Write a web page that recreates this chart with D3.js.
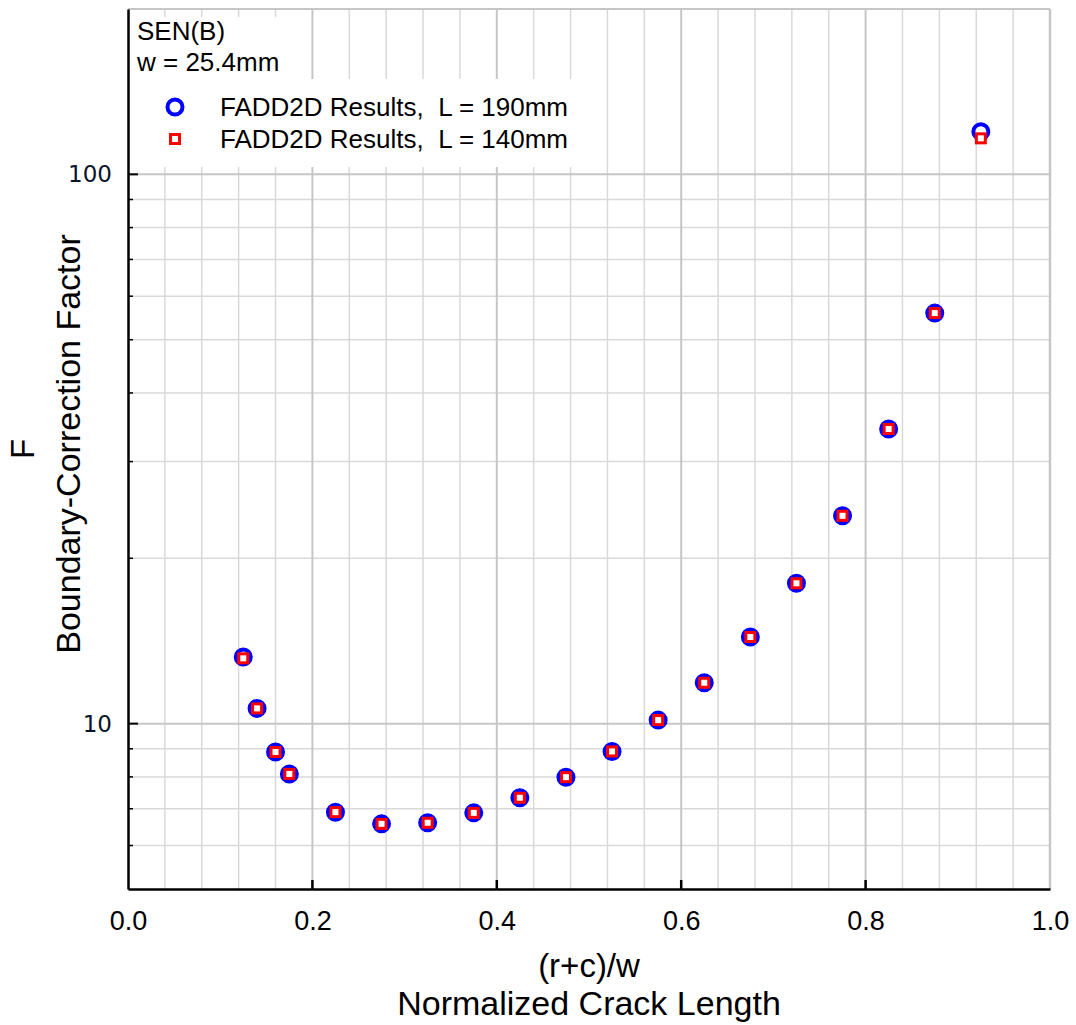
<!DOCTYPE html>
<html>
<head>
<meta charset="utf-8">
<script src="https://cdn.jsdelivr.net/npm/d3@7"></script>
<style>
  html, body { margin: 0; padding: 0; background: #fff; }
  svg { display: block; }
</style>
</head>
<body>
<svg id="chart" width="1076" height="1025"></svg>
<script>
// ---- data ----
const crackLength = [0.125, 0.14, 0.16, 0.175, 0.225, 0.275, 0.325, 0.375, 0.425, 0.475,
                     0.525, 0.575, 0.625, 0.675, 0.725, 0.775, 0.825, 0.875, 0.925];
const fL190 = [13.22, 10.66, 8.88, 8.10, 6.90, 6.57, 6.60, 6.88, 7.33, 7.99,
               8.90, 10.15, 11.87, 14.38, 18.01, 23.90, 34.39, 55.9, 119.6];
const fL140 = [13.15, 10.66, 8.88, 8.10, 6.90, 6.57, 6.60, 6.88, 7.33, 7.99,
               8.90, 10.15, 11.87, 14.38, 18.01, 23.90, 34.39, 55.9, 116.3];
const xTicks = [0.0, 0.2, 0.4, 0.6, 0.8, 1.0];
const yTicks = [10, 100];
const seriesNames = ["FADD2D Results,  L = 190mm", "FADD2D Results,  L = 140mm"];
const noteLines = ["SEN(B)", "w = 25.4mm"];

// ---- layout ----
const svg = d3.select("#chart");
const L = 128, R = 1050, T = 9, B = 889;
const x = d3.scaleLinear().domain([0, 1]).range([L, R]);
const y = d3.scaleLog().domain([5, 200]).range([B, T]);

// grid
const xMinor = d3.range(0, 25).map(i => +(i * 0.04).toFixed(2)).filter(v => v > 0 && v < 1 && Math.abs(v * 5 - Math.round(v * 5)) > 1e-6);
const xMajor = [0.2, 0.4, 0.6, 0.8];
const yMinor = [6, 7, 8, 9, 20, 30, 40, 50, 60, 70, 80, 90];
const grid = svg.append("g");
grid.selectAll(".xmin").data(xMinor).join("line")
  .attr("x1", d => x(d)).attr("x2", d => x(d)).attr("y1", T).attr("y2", B)
  .attr("stroke", "#d9d9d9").attr("stroke-width", 1.5);
grid.selectAll(".ymin").data(yMinor).join("line")
  .attr("x1", L).attr("x2", R).attr("y1", d => y(d)).attr("y2", d => y(d))
  .attr("stroke", "#d9d9d9").attr("stroke-width", 1.5);
grid.selectAll(".xmaj").data(xMajor).join("line")
  .attr("x1", d => x(d)).attr("x2", d => x(d)).attr("y1", T).attr("y2", B)
  .attr("stroke", "#c6c6c6").attr("stroke-width", 2);
grid.selectAll(".ymaj").data(yTicks).join("line")
  .attr("x1", L).attr("x2", R).attr("y1", d => y(d)).attr("y2", d => y(d))
  .attr("stroke", "#c6c6c6").attr("stroke-width", 2);
// top and right frame (grey)
grid.append("line").attr("x1", L).attr("x2", R).attr("y1", T).attr("y2", T)
  .attr("stroke", "#c6c6c6").attr("stroke-width", 2);
grid.append("line").attr("x1", R).attr("x2", R).attr("y1", T).attr("y2", B)
  .attr("stroke", "#c6c6c6").attr("stroke-width", 2.5);

// white boxes behind note and legend
svg.append("rect").attr("x", L + 1).attr("y", 17).attr("width", 150).attr("height", 63).attr("fill", "#fff");
svg.append("rect").attr("x", L + 1).attr("y", 79).attr("width", 452).attr("height", 88).attr("fill", "#fff");

// axes
const xAxis = d3.axisBottom(x).tickValues(xTicks).tickFormat(d3.format(".1f")).tickSize(0).tickPadding(22);
const gx = svg.append("g").attr("transform", `translate(0,${B})`).call(xAxis);
gx.select(".domain").attr("stroke", "#000").attr("stroke-width", 2.5);
gx.selectAll("text").attr("font-family", "Liberation Sans, Arial, sans-serif").attr("font-size", 27).attr("fill", "#000");
// inward major ticks
svg.append("g").selectAll("line").data(xMajor).join("line")
  .attr("x1", d => x(d)).attr("x2", d => x(d)).attr("y1", B).attr("y2", B - 9)
  .attr("stroke", "#000").attr("stroke-width", 2.5);

const yAxis = d3.axisLeft(y).tickValues(yTicks).tickFormat(d3.format("d")).tickSize(0).tickPadding(16);
const gy = svg.append("g").attr("transform", `translate(${L},0)`).call(yAxis);
gy.select(".domain").attr("stroke", "#000").attr("stroke-width", 2.5);
gy.selectAll("text").attr("font-family", "DejaVu Sans, sans-serif").attr("font-size", 23).attr("fill", "#0a1428");
svg.append("g").selectAll("line").data(yTicks).join("line")
  .attr("x1", L).attr("x2", L + 10).attr("y1", d => y(d)).attr("y2", d => y(d))
  .attr("stroke", "#000").attr("stroke-width", 2);
svg.append("g").selectAll("line").data(yMinor).join("line")
  .attr("x1", L).attr("x2", L + 5).attr("y1", d => y(d)).attr("y2", d => y(d))
  .attr("stroke", "#000").attr("stroke-width", 1.5);

// axis titles
const titleFont = "Liberation Sans, Arial, sans-serif";
svg.append("text").attr("x", (L + R) / 2).attr("y", 977).attr("text-anchor", "middle")
  .attr("font-family", titleFont).attr("font-size", 33).text("(r+c)/w");
svg.append("text").attr("x", (L + R) / 2).attr("y", 1015).attr("text-anchor", "middle")
  .attr("font-family", titleFont).attr("font-size", 34).text("Normalized Crack Length");
svg.append("text").attr("transform", `translate(34,${(T + B) / 2}) rotate(-90)`).attr("text-anchor", "middle")
  .attr("font-family", titleFont).attr("font-size", 33).text("F");
svg.append("text").attr("transform", `translate(80,${(T + B) / 2 - 5}) rotate(-90)`).attr("text-anchor", "middle")
  .attr("font-family", titleFont).attr("font-size", 34).text("Boundary-Correction Factor");

// data markers
const pts190 = crackLength.map((c, i) => ({ c, v: fL190[i] }));
const pts140 = crackLength.map((c, i) => ({ c, v: fL140[i] }));
svg.append("g").selectAll("circle").data(pts190).join("circle")
  .attr("cx", d => x(d.c)).attr("cy", d => y(d.v)).attr("r", 7.5)
  .attr("fill", "#fff").attr("stroke", "#0000ff").attr("stroke-width", 4);
svg.append("g").selectAll("rect").data(pts140).join("rect")
  .attr("x", d => x(d.c) - 4.5).attr("y", d => y(d.v) - 4.5).attr("width", 9).attr("height", 9)
  .attr("fill", "#fff").attr("stroke", "#ff0000").attr("stroke-width", 3);

// note
const legFont = "Liberation Sans, Arial, sans-serif";
svg.append("g").selectAll("text").data(noteLines).join("text")
  .attr("x", 137).attr("y", (d, i) => 40 + i * 31)
  .attr("font-family", legFont).attr("font-size", 26).text(d => d);

// legend
const leg = svg.append("g");
leg.append("circle").attr("cx", 175).attr("cy", 107).attr("r", 7.5)
  .attr("fill", "#fff").attr("stroke", "#0000ff").attr("stroke-width", 4);
leg.append("rect").attr("x", 170.5).attr("y", 134.5).attr("width", 9).attr("height", 9)
  .attr("fill", "#fff").attr("stroke", "#ff0000").attr("stroke-width", 3);
leg.selectAll("text").data(seriesNames).join("text")
  .attr("x", 220).attr("y", (d, i) => 116 + i * 32)
  .attr("font-family", legFont).attr("font-size", 26).attr("xml:space", "preserve")
  .style("white-space", "pre").text(d => d);
</script>
</body>
</html>
